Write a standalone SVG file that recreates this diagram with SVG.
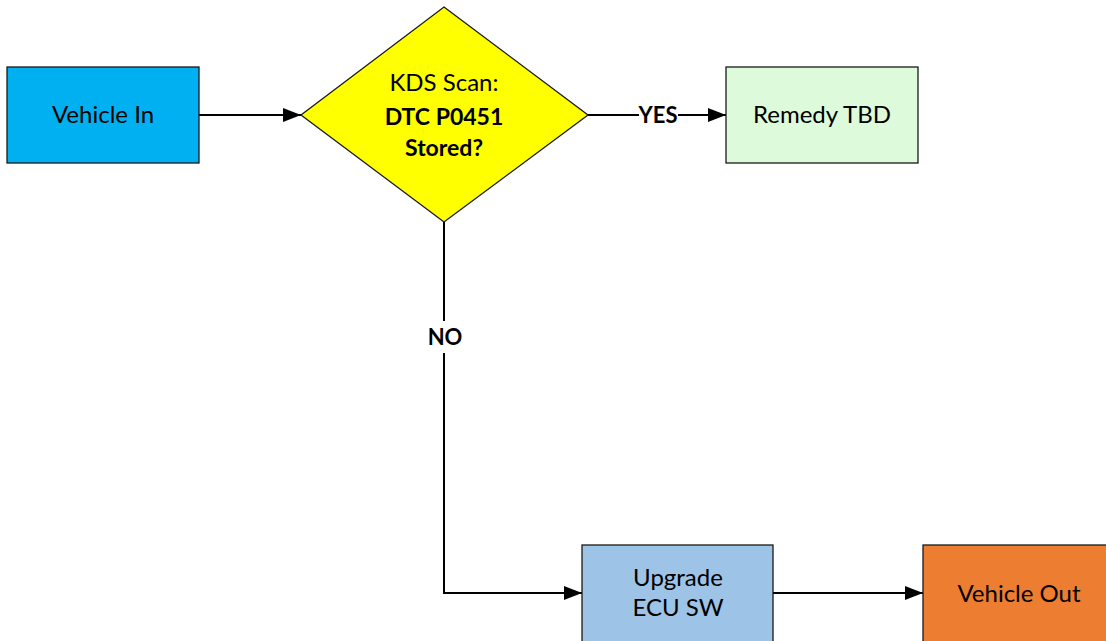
<svg xmlns="http://www.w3.org/2000/svg" width="1106" height="641" viewBox="0 0 1106 641">
<style>
.box{stroke:#1a1a1a;stroke-width:1.3}
.t{font-family:Lato,"Open Sans","Liberation Sans",sans-serif;font-size:24px;fill:#000;text-anchor:middle}
.b{font-weight:bold;font-size:23px}
.c{stroke:#000;stroke-width:2;fill:none}
.lbl{font-family:Lato,"Open Sans","Liberation Sans",sans-serif;font-size:22px;font-weight:bold;fill:#000;text-anchor:middle}
</style>
<defs>
<marker id="ah" markerWidth="18" markerHeight="14" refX="18" refY="7" orient="auto" markerUnits="userSpaceOnUse">
<path d="M0,0 L18,7 L0,14 Z" fill="#000"/>
</marker>
</defs>
<rect width="1106" height="641" fill="#fff"/>
<g id="connectors">
<line class="c" x1="199" y1="115" x2="301" y2="115" marker-end="url(#ah)"/>
<line class="c" x1="588" y1="115" x2="726" y2="115" marker-end="url(#ah)"/>
<rect x="639" y="103" width="39" height="24" fill="#fff"/>
<text class="lbl" x="658" y="123">YES</text>
<polyline class="c" points="444,222 444,593 582,593" marker-end="url(#ah)"/>
<rect x="424" y="321" width="42" height="32" fill="#fff"/>
<text class="lbl" x="445" y="345">NO</text>
<line class="c" x1="773" y1="593" x2="923" y2="593" marker-end="url(#ah)"/>
</g>
<g id="vehicle-in">
<rect class="box" x="7" y="67" width="192" height="96" fill="#00B0F0"/>
<text class="t" x="103" y="123">Vehicle In</text>
</g>
<g id="kds-scan">
<polygon class="box" points="444,7 588,115 444,222 301,115" fill="#FFFF00"/>
<text class="t" x="444" y="91">KDS Scan:</text>
<text class="t b" x="444" y="125">DTC P0451</text>
<text class="t b" x="444" y="156">Stored?</text>
</g>
<g id="remedy-tbd">
<rect class="box" x="726" y="67" width="192" height="96" fill="#DDFADA"/>
<text class="t" x="822" y="123">Remedy TBD</text>
</g>
<g id="upgrade-ecu">
<rect class="box" x="582" y="545" width="191" height="100" fill="#9DC3E6"/>
<text class="t" x="678" y="586">Upgrade</text>
<text class="t" x="678" y="616">ECU SW</text>
</g>
<g id="vehicle-out">
<rect class="box" x="923" y="545" width="192" height="100" fill="#ED7D31"/>
<text class="t" x="1019" y="602">Vehicle Out</text>
</g>
</svg>
